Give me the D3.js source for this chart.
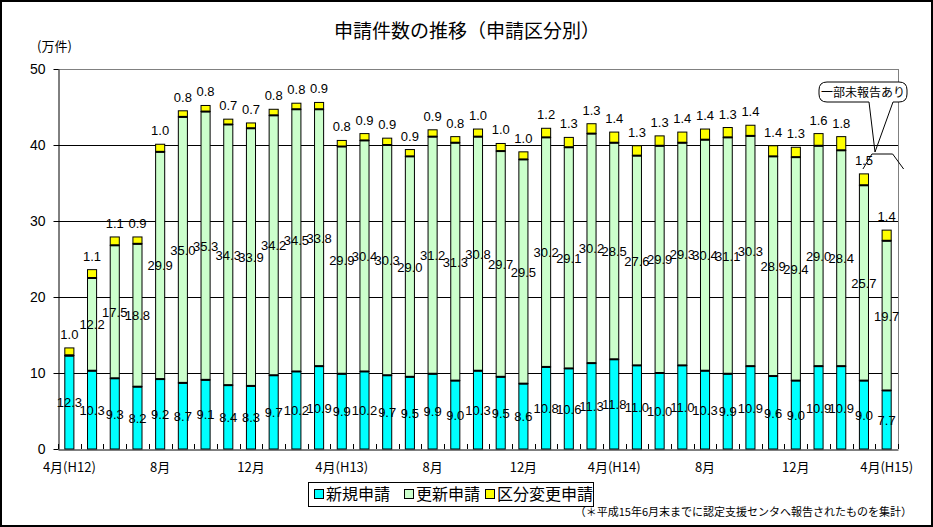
<!DOCTYPE html>
<html><head><meta charset="utf-8">
<script src="https://cdn.jsdelivr.net/npm/d3@7"></script>
<style>body{margin:0;background:#fff} text{font-family:"Noto Sans CJK JP","Noto Sans",sans-serif;fill:#000}</style>
</head><body><svg id="c" width="933" height="527"></svg>
<script>
const months = ["H12.4","H12.5","H12.6","H12.7","H12.8","H12.9","H12.10","H12.11","H12.12","H13.1","H13.2","H13.3",
"H13.4","H13.5","H13.6","H13.7","H13.8","H13.9","H13.10","H13.11","H13.12","H14.1","H14.2","H14.3",
"H14.4","H14.5","H14.6","H14.7","H14.8","H14.9","H14.10","H14.11","H14.12","H15.1","H15.2","H15.3","H15.4"];
const shinki = [12.3,10.3,9.3,8.2,9.2,8.7,9.1,8.4,8.3,9.7,10.2,10.9,
9.9,10.2,9.7,9.5,9.9,9.0,10.3,9.5,8.6,10.8,10.6,11.3,
11.8,11.0,10.0,11.0,10.3,9.9,10.9,9.6,9.0,10.9,10.9,9.0,7.7];
const koshin = [0,12.2,17.5,18.8,29.9,35.0,35.3,34.3,33.9,34.2,34.5,33.8,
29.9,30.4,30.3,29.0,31.2,31.3,30.8,29.7,29.5,30.2,29.1,30.2,
28.5,27.6,29.9,29.3,30.4,31.1,30.3,28.9,29.4,29.0,28.4,25.7,19.7];
const kubun = [1.0,1.1,1.1,0.9,1.0,0.8,0.8,0.7,0.7,0.8,0.8,0.9,
0.8,0.9,0.9,0.9,0.9,0.8,1.0,1.0,1.0,1.2,1.3,1.3,
1.4,1.3,1.3,1.4,1.4,1.3,1.4,1.4,1.3,1.6,1.8,1.5,1.4];
const seriesNames = ["新規申請","更新申請","区分変更申請"];
const colors = ["#00FFFF","#CCFFCC","#FFFF00"];
const yTicks = [0,10,20,30,40,50];
const xTickIdx = [0,4,8,12,16,20,24,28,32,36];
const xTickLabels = ["4月(H12)","8月","12月","4月(H13)","8月","12月","4月(H14)","8月","12月","4月(H15)"];

const svg = d3.select("#c");
const L=58,R=898,T=69,B=449;
const x = d3.scaleBand().domain(months).range([L,R]).paddingInner(0.6).paddingOuter(0.3);
const y = d3.scaleLinear().domain([0,50]).range([B,T]);

// outer border
svg.append("rect").attr("x",1).attr("y",1).attr("width",931).attr("height",525).attr("fill","none").attr("stroke","#000").attr("stroke-width",2);

// title
svg.append("text").attr("x",467).attr("y",38).attr("text-anchor","middle").attr("font-size",19).text("申請件数の推移（申請区分別）");
svg.append("text").attr("x",37).attr("y",51).attr("font-size",13).text("(万件)");

// plot frame top/right gray
svg.append("path").attr("d",`M${L},${T}H${R}V${B}`).attr("fill","none").attr("stroke","#808080").attr("stroke-width",1).attr("shape-rendering","crispEdges");
// gridlines
svg.append("g").selectAll("line").data(yTicks.filter(d=>d>0&&d<50)).join("line")
  .attr("x1",L).attr("x2",R).attr("y1",d=>Math.round(y(d))+0.5).attr("y2",d=>Math.round(y(d))+0.5)
  .attr("stroke","#000");

// y axis
const ya = svg.append("g").attr("transform",`translate(${L+0.5},0)`).call(d3.axisLeft(y).tickValues(yTicks).tickSize(5).tickSizeOuter(0).tickPadding(8));
ya.selectAll("text").attr("font-size",14).style("font-family","'Liberation Sans',sans-serif");
ya.selectAll("path,line").attr("stroke","#000");

// bars
const data = months.map((m,i)=>({m, a:shinki[i], b:koshin[i], c:kubun[i]}));
const stack = d3.stack().keys(["a","b","c"])(data);
const g = svg.append("g");
stack.forEach((s,k)=>{
  g.append("g").selectAll("rect").data(s).join("rect")
   .attr("x",d=>x(d.data.m)).attr("width",x.bandwidth())
   .attr("y",d=>y(d[1])).attr("height",d=>y(d[0])-y(d[1]))
   .attr("fill",colors[k]).attr("stroke","#000").attr("stroke-width",1);
});
// separators (thicker black between segments)
stack.slice(0,2).forEach(s=>{
  g.append("g").selectAll("line").data(s.filter(d=>d.data.b>0||true)).join("line")
   .attr("x1",d=>x(d.data.m)).attr("x2",d=>x(d.data.m)+x.bandwidth())
   .attr("y1",d=>y(d[1])).attr("y2",d=>y(d[1])).attr("stroke","#000").attr("stroke-width",2);
});

// x axis
const xa = svg.append("g").attr("transform",`translate(0,${B+0.5})`).call(d3.axisBottom(x).tickValues([]).tickSizeOuter(0));
xa.select("path").attr("stroke","#000");
// inner tick marks at band boundaries
const bounds = d3.range(months.length+1).map(i=>L+i*x.step());
svg.append("g").selectAll("line").data(bounds).join("line")
  .attr("x1",d=>Math.round(d)+0.5).attr("x2",d=>Math.round(d)+0.5).attr("y1",B-5).attr("y2",B).attr("stroke","#000");
svg.append("g").selectAll("text").data(xTickIdx).join("text")
  .attr("x",(d)=>x(months[d])+x.bandwidth()/2).attr("y",472).attr("text-anchor","middle").attr("font-size",13)
  .text((d,i)=>xTickLabels[i]);

// labels
const lab = svg.append("g").attr("font-size",13);
const fmt = d3.format(".1f");
stack.forEach((s,k)=>{
  lab.append("g").selectAll("text").data(s.filter(d=>d[1]-d[0]>0)).join("text")
   .attr("x",d=>x(d.data.m)+x.bandwidth()/2)
   .attr("y",d=> k<2 ? (y(d[0])+y(d[1]))/2+5 : y(d[1])-9)
   .attr("text-anchor","middle").attr("font-size",13)
   .style("font-family","'Liberation Sans',sans-serif")
   .text(d=>fmt(d[1]-d[0]));
});

// callout
const cx36 = x(months[35])+x.bandwidth()/2, cx37 = x(months[36])+x.bandwidth()/2;
svg.append("path").attr("d",`M${cx36-1},169L${cx36+8},154H${cx37+6}L${cx37+17},169`).attr("fill","none").attr("stroke","#000");
svg.append("path").attr("d",`M869,102L875,152L893,102`).attr("fill","none").attr("stroke","#000");
svg.append("path").attr("d","M869,102H827Q819,102 819,94V90Q819,82 827,82H899Q907,82 907,90V94Q907,102 899,102H893").attr("fill","#fff").attr("stroke","#000");
svg.append("text").attr("x",863).attr("y",97).attr("text-anchor","middle").attr("font-size",12).text("一部未報告あり");

// legend
const lg = svg.append("g");
lg.append("rect").attr("x",308.5).attr("y",482.5).attr("width",285).attr("height",24).attr("fill","#fff").attr("stroke","#000");
const lx = [314,404,485];
seriesNames.forEach((n,i)=>{
  lg.append("rect").attr("x",lx[i]+0.5).attr("y",489.5).attr("width",9).attr("height",9).attr("fill",colors[i]).attr("stroke","#000");
  lg.append("text").attr("x",lx[i]+12).attr("y",500).attr("font-size",16).text(n);
});
svg.append("text").attr("x",912).attr("y",516).attr("text-anchor","end").attr("font-size",11).text("（＊平成15年6月末までに認定支援センタへ報告されたものを集計）");
</script></body></html>
